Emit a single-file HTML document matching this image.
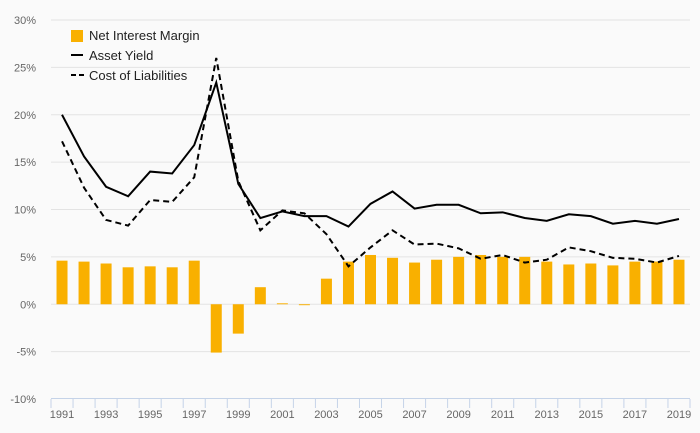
<!DOCTYPE html>
<html><head><meta charset="utf-8"><style>
body{margin:0;background:#fafafa;font-family:"Liberation Sans",sans-serif}
svg{display:block}
</style></head><body>
<svg width="700" height="433" id="c">
<rect width="700" height="433" fill="#fafafa"/>
<g id="grid"></g><g id="bars"></g><g id="lines"></g><g id="axes"></g>
<g>
<g><rect x="71" y="30" width="12" height="12" fill="#f9b000"/><text x="89" y="40" font-size="13" fill="#222">Net Interest Margin</text></g>
<g><line x1="71" y1="55" x2="83" y2="55" stroke="#000" stroke-width="2"/><text x="89" y="60" font-size="13" fill="#222">Asset Yield</text></g>
<g><line x1="71" y1="75" x2="84" y2="75" stroke="#000" stroke-width="2" stroke-dasharray="5,3"/><text x="89" y="80" font-size="13" fill="#222">Cost of Liabilities</text></g>
</g>
</svg>
<script>
const years=[1991,1992,1993,1994,1995,1996,1997,1998,1999,2000,2001,2002,2003,2004,2005,2006,2007,2008,2009,2010,2011,2012,2013,2014,2015,2016,2017,2018,2019];
const assetYield=[20,15.6,12.4,11.4,14,13.8,16.8,23.4,12.7,9.1,9.8,9.3,9.3,8.2,10.6,11.9,10.1,10.5,10.5,9.6,9.7,9.1,8.8,9.5,9.3,8.5,8.8,8.5,9.0];
const costLiab=[17.2,12.3,8.9,8.3,11.0,10.8,13.4,26.0,13.0,7.8,9.9,9.6,7.4,4.0,6.0,7.8,6.3,6.4,5.9,4.8,5.2,4.4,4.7,6.0,5.6,4.9,4.8,4.4,5.1];
const nim=[4.6,4.5,4.3,3.9,4.0,3.9,4.6,-5.1,-3.1,1.8,0.1,-0.1,2.7,4.5,5.2,4.9,4.4,4.7,5.0,5.2,5.0,5.0,4.5,4.2,4.3,4.1,4.5,4.5,4.7];
const yTicks=[-10,-5,0,5,10,15,20,25,30];
const NS='http://www.w3.org/2000/svg';
const L=51,R=690,T=20,B=399;
const bw=(R-L)/years.length;
const x=i=>L+bw*(i+0.5);
const y=v=>B-(v+10)/40*(B-T);
function mk(t,a,p){const e=document.createElementNS(NS,t);for(const k in a)e.setAttribute(k,a[k]);p.appendChild(e);return e;}
const grid=document.getElementById('grid'),axes=document.getElementById('axes'),bars=document.getElementById('bars'),lines=document.getElementById('lines');
yTicks.forEach(v=>{
 if(v>-10){const g=mk('line',{x1:L,x2:R,y1:y(v),y2:y(v),stroke:'#e3e3e3','stroke-width':1},grid);
 
 }
 const t=mk('text',{x:36,y:y(v)+4,'text-anchor':'end','font-size':11,fill:'#666'},axes);
 t.textContent=v+'%';
 
 
});
const ax=mk('line',{x1:L,x2:R,y1:B-0.5,y2:B-0.5,stroke:'#c5d3e8','stroke-width':1},axes);


for(let i=0;i<=years.length;i++){const tk=mk('line',{x1:L+bw*i,x2:L+bw*i,y1:B,y2:B+9,stroke:'#c5d3e8'},axes);
 
 }
years.forEach((yr,i)=>{
 if(i%2==0){const t=mk('text',{x:x(i),y:418,'text-anchor':'middle','font-size':11,fill:'#666'},axes);t.textContent=yr;
 
 }
 const v=nim[i],y0=y(0),y1=y(v);
 const r=mk('rect',{x:x(i)-5.5,y:Math.min(y0,y1),width:11,height:Math.max(0.8,Math.abs(y1-y0)),fill:'#f9b000'},bars);
 
 
});
const pa=mk('polyline',{points:assetYield.map((v,i)=>x(i)+','+y(v)).join(' '),fill:'none',stroke:'#000','stroke-width':2},lines);


const pc=mk('polyline',{points:costLiab.map((v,i)=>x(i)+','+y(v)).join(' '),fill:'none',stroke:'#000','stroke-width':2,'stroke-dasharray':'6,4'},lines);


</script>
</body></html>
